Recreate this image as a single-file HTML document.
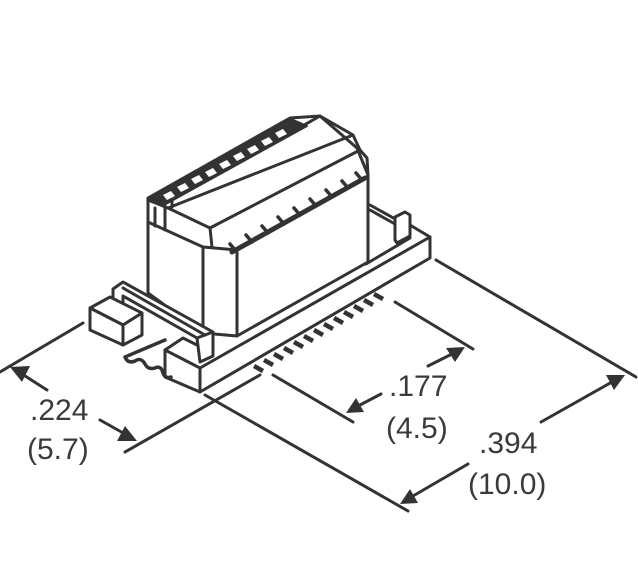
<!DOCTYPE html>
<html><head><style>
html,body{margin:0;padding:0;background:#fff;}
svg{display:block}
text{font-family:"Liberation Sans",sans-serif;fill:#3a3a3a;font-size:30px}
</style></head><body>
<svg width="638" height="587" viewBox="0 0 638 587" xmlns="http://www.w3.org/2000/svg">
<g fill="none" stroke="#333" stroke-width="3" stroke-linejoin="round" stroke-linecap="round">
<!-- base plate -->
<polygon points="200,368 430,237 430,258 200,392" fill="#fff"/>
<polyline points="165,350 183,338 197,345"/>
<polyline points="165,350 200,368"/>
<polyline points="165,350 165,377 200,392"/>
<polyline points="410,225 430,237"/>
<line x1="410" y1="238" x2="366" y2="264"/>
<!-- right back clip -->
<polyline points="370,205 397,220 397,240"/>
<polyline points="370,210 395,224"/>
<polygon points="395,217 405,212 410,215 410,236 397,243 395,240" fill="#fff"/>
<!-- wavy feature -->
<path d="M125,357 L165,340 M125,357 q3,7 10,4 q6,-4 10,3 q3,6 10,4 q6,-3 8,5 q2,6 8,4" stroke-width="3.5"/>
<!-- body -->
<polygon points="148,200 148,293 203,333 237,336 368,262 368,175 357,148 320,116 290,118 148,198" fill="#fff"/>
<polyline points="148,222 203,247 237,250 368,176"/>
<polyline points="203,247 203,333"/>
<polyline points="237,250 237,336"/>
<polyline points="148,200 168,208 210,228 212,247"/>
<polyline points="168,208 353,135 360,150"/>
<polyline points="210,228 360,150"/>
<polyline points="172,207 172,200 320,116 353,135"/>
<polyline points="155,208 155,226"/>
<polyline points="165,206 165,230"/>
<polyline points="360,150 367,158 368,175"/>
<!-- slats band -->
<polygon points="148,198 291,119 307,126 164,205" fill="#333" stroke-width="2"/>
<g fill="#fff" stroke="none">
<polygon points="163,195 171,191 175,196 167,200"/>
<polygon points="177,187 185,183 189,188 181,192"/>
<polygon points="191,179 199,175 203,180 195,184"/>
<polygon points="205,172 213,168 217,173 209,177"/>
<polygon points="219,164 227,160 231,165 223,169"/>
<polygon points="233,156 241,152 245,157 237,161"/>
<polygon points="247,149 255,145 259,150 251,154"/>
<polygon points="261,141 269,137 273,142 265,146"/>
<polygon points="275,133 283,129 287,134 279,138"/>
</g>
<!-- teeth on lower chamfer -->
<g stroke-width="3.5">
<line x1="232" y1="252" x2="365" y2="178" stroke-width="5"/>
<line x1="230" y1="244" x2="236" y2="251"/><line x1="246" y1="235" x2="252" y2="242"/><line x1="262" y1="226" x2="268" y2="233"/><line x1="278" y1="217" x2="284" y2="224"/><line x1="294" y1="208" x2="300" y2="215"/><line x1="310" y1="199" x2="316" y2="206"/><line x1="326" y1="190" x2="332" y2="197"/><line x1="342" y1="181" x2="348" y2="188"/><line x1="356" y1="173" x2="362" y2="180"/>
</g>
<!-- front left rail -->
<polygon points="113,289 123,282 213,332 213,356 200,362 197,338 123,296 123,308 113,312" fill="#fff"/>
<line x1="123" y1="288" x2="205" y2="335"/>
<line x1="197" y1="338" x2="213" y2="332"/>
<!-- small block -->
<polygon points="90,308 110,297 142,313 123,325" fill="#fff"/>
<polygon points="90,308 123,325 123,345 90,330" fill="#fff"/>
<polygon points="123,325 142,313 142,335 123,345" fill="#fff"/>
<!-- contacts -->
<g stroke-width="4.5" stroke-linecap="butt">
<line x1="254" y1="366" x2="263" y2="371"/><line x1="264" y1="360" x2="273" y2="365"/><line x1="274" y1="354" x2="283" y2="359"/><line x1="284" y1="348" x2="293" y2="353"/><line x1="294" y1="342" x2="303" y2="347"/><line x1="304" y1="336" x2="313" y2="341"/><line x1="314" y1="330" x2="323" y2="335"/><line x1="324" y1="324" x2="333" y2="329"/><line x1="334" y1="318" x2="343" y2="323"/><line x1="344" y1="312" x2="353" y2="317"/><line x1="354" y1="306" x2="363" y2="311"/><line x1="364" y1="300" x2="373" y2="305"/><line x1="374" y1="294" x2="383" y2="299"/>
</g>
<!-- dimension lines -->
<line x1="0" y1="372" x2="83" y2="323"/>
<line x1="125" y1="452" x2="260" y2="375"/>
<line x1="205" y1="395" x2="408" y2="511"/>
<line x1="436" y1="260" x2="636" y2="377"/>
<line x1="395" y1="302" x2="473" y2="349"/>
<line x1="273" y1="375" x2="353" y2="422"/>
<line x1="47" y1="390" x2="22" y2="374"/>
<line x1="100" y1="420" x2="125" y2="434"/>
<line x1="428" y1="366" x2="452" y2="354"/>
<line x1="381" y1="394" x2="358" y2="406"/>
<line x1="541" y1="422" x2="612" y2="382"/>
<line x1="468" y1="464" x2="413" y2="496"/>
</g>
<g fill="#333">
<polygon points="10,367 30,366 22,382"/>
<polygon points="137,441 117,441 125,426"/>
<polygon points="465,347 455,362 446,348"/>
<polygon points="346,413 356,398 364,412"/>
<polygon points="625,375 614,390 606,375"/>
<polygon points="400,504 410,489 418,503"/>
</g>
<text x="30" y="420">.224</text>
<text x="27" y="459">(5.7)</text>
<text x="389" y="396">.177</text>
<text x="386" y="438">(4.5)</text>
<text x="479" y="453">.394</text>
<text x="468" y="494">(10.0)</text>
</svg>
</body></html>
